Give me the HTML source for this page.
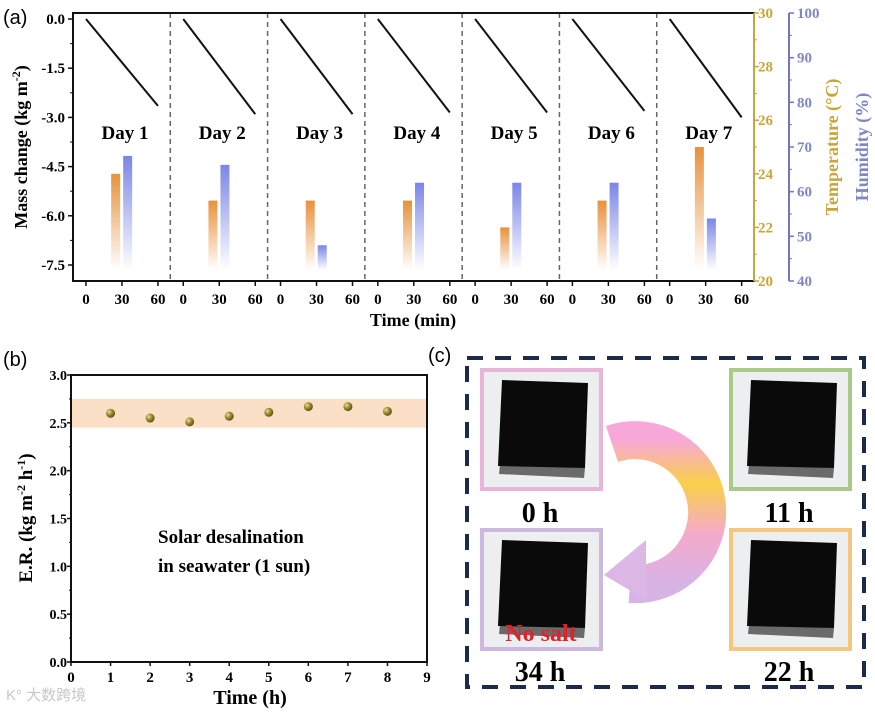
<!DOCTYPE html>
<html><head><meta charset="utf-8">
<style>
html,body{margin:0;padding:0;background:#fff;}
svg{display:block;font-family:"Liberation Serif",serif;}
</style></head>
<body>
<svg id="root" width="875" height="713" viewBox="0 0 875 713" xmlns="http://www.w3.org/2000/svg">
<defs>
<linearGradient id="gOr" x1="0" y1="0" x2="0" y2="1"><stop offset="0" stop-color="#e8913a"/><stop offset="1" stop-color="#e8913a" stop-opacity="0"/></linearGradient>
<linearGradient id="gBl" x1="0" y1="0" x2="0" y2="1"><stop offset="0" stop-color="#7a86e6"/><stop offset="1" stop-color="#7a86e6" stop-opacity="0"/></linearGradient>
<radialGradient id="gBall" cx="0.35" cy="0.35" r="0.7"><stop offset="0" stop-color="#e8df9a"/><stop offset="0.5" stop-color="#9a8a2e"/><stop offset="1" stop-color="#5a4e14"/></radialGradient>
<linearGradient id="gArrow" x1="0" y1="0" x2="0" y2="1"><stop offset="0" stop-color="#f7a8d8"/><stop offset="0.3" stop-color="#f9cf4a"/><stop offset="0.65" stop-color="#f5aacb"/><stop offset="1" stop-color="#d7b3e6"/></linearGradient>
</defs>
<g id="pa"></g>
<g id="pb"></g>
<g id="pc"></g>
</svg>
<script>
// ---------- Panel (a) data ----------
const days = ["Day 1","Day 2","Day 3","Day 4","Day 5","Day 6","Day 7"];
const massEnd = [-2.65,-2.9,-2.9,-2.85,-2.85,-2.8,-3.0];
const temps = [24.0,23.0,23.0,23.0,22.0,23.0,25.0];
const humid = [68,66,48,62,62,62,54];
const massTicks = [0.0,-1.5,-3.0,-4.5,-6.0,-7.5];
const tempTicks = [20,22,24,26,28,30];
const humTicks = [40,50,60,70,80,90,100];
const minTicks = [0,30,60];
// ---------- Panel (b) data ----------
const hours = [1,2,3,4,5,6,7,8];
const erVals = [2.60,2.55,2.51,2.57,2.61,2.67,2.67,2.62];
const erTicks = [0.0,0.5,1.0,1.5,2.0,2.5,3.0];
const hTicks = [0,1,2,3,4,5,6,7,8,9];
const band = [2.45,2.75];

const NS="http://www.w3.org/2000/svg";
function mk(parent,tag,attrs,txt){const e=document.createElementNS(NS,tag);for(const k in attrs)e.setAttribute(k,attrs[k]);if(txt!==undefined)e.textContent=txt;parent.appendChild(e);return e;}

// ===== Panel a =====
const pa=document.getElementById('pa');
const L=73,R=754,T=13,B=281,dayW=(R-L)/7;
const yM=v=>19+(0-v)*(246/7.5);
const yT=v=>B-(v-20)*(B-T)/10;
const yH=v=>B-(v-40)*(B-T)/60;
const xMin=(d,m)=>L+d*dayW+(m+10.8)*1.2;
let t=mk(pa,'text',{x:3,y:24,'font-family':'Liberation Sans, sans-serif','font-size':20},'(a)');

days.forEach((d,i)=>{
  if(i>0){const dl=mk(pa,'line',{x1:L+i*dayW,x2:L+i*dayW,y1:T,y2:B,stroke:'#666','stroke-width':1.5,'stroke-dasharray':'5,4'});
    }
  const ln=mk(pa,'line',{x1:xMin(i,0),y1:yM(0),x2:xMin(i,60),y2:yM(massEnd[i]),stroke:'#111','stroke-width':2});
  
  const lb=mk(pa,'text',{x:L+i*dayW+52,y:139,'text-anchor':'middle','font-weight':'bold','font-size':19},d);
  
  const to=yT(temps[i]);
  const b1=mk(pa,'rect',{x:xMin(i,21),y:to,width:9,height:270-to,fill:'url(#gOr)'});
  
  const ho=yH(humid[i]);
  const b2=mk(pa,'rect',{x:xMin(i,31),y:ho,width:9,height:270-ho,fill:'url(#gBl)'});
  
  minTicks.forEach(m=>{
    mk(pa,'line',{x1:xMin(i,m),x2:xMin(i,m),y1:B,y2:B+5,stroke:'#111','stroke-width':1.5});
    const tl=mk(pa,'text',{x:xMin(i,m),y:304,'text-anchor':'middle','font-weight':'bold','font-size':15},m);
    
  });
});
const fr=mk(pa,'rect',{x:L,y:T,width:R-L,height:B-T,fill:'none',stroke:'#111','stroke-width':2});

mk(pa,'line',{x1:R,x2:R,y1:T,y2:B,stroke:'#c9a53a','stroke-width':2});
massTicks.forEach((v,k)=>{
  mk(pa,'line',{x1:L-5,x2:L,y1:yM(v),y2:yM(v),stroke:'#111','stroke-width':1.5});
  if(k<massTicks.length-1)mk(pa,'line',{x1:L-3,x2:L,y1:yM(v-0.75),y2:yM(v-0.75),stroke:'#111','stroke-width':1});
  const tl=mk(pa,'text',{x:L-8,y:yM(v)+5,'text-anchor':'end','font-weight':'bold','font-size':15},v.toFixed(1));
  
});
t=mk(pa,'text',{transform:'translate(27,147) rotate(-90)','text-anchor':'middle','font-weight':'bold','font-size':18},'');
t.innerHTML='Mass change (kg m<tspan dy="-7" font-size="12">-2</tspan><tspan dy="7">)</tspan>';

t=mk(pa,'text',{x:413,y:326,'text-anchor':'middle','font-weight':'bold','font-size':18},'Time (min)');

tempTicks.forEach((v,k)=>{
  mk(pa,'line',{x1:R,x2:R+5,y1:yT(v),y2:yT(v),stroke:'#c9a53a','stroke-width':1.5});
  if(k<tempTicks.length-1)mk(pa,'line',{x1:R,x2:R+3,y1:yT(v+1),y2:yT(v+1),stroke:'#c9a53a','stroke-width':1});
  const tl=mk(pa,'text',{x:R+4,y:yT(v)+5,'font-size':15,'font-weight':'bold',fill:'#c9a53a'},v);
  
});
const HX=789;
mk(pa,'line',{x1:HX,x2:HX,y1:T,y2:B,stroke:'#7078b8','stroke-width':2});
humTicks.forEach((v,k)=>{
  mk(pa,'line',{x1:HX,x2:HX+5,y1:yH(v),y2:yH(v),stroke:'#7078b8','stroke-width':1.5});
  if(k<humTicks.length-1)mk(pa,'line',{x1:HX,x2:HX+3,y1:yH(v+5),y2:yH(v+5),stroke:'#7078b8','stroke-width':1});
  const tl=mk(pa,'text',{x:HX+8,y:yH(v)+5,'font-size':15,'font-weight':'bold',fill:'#7f86c6'},v);
  
});
t=mk(pa,'text',{transform:'translate(838,147) rotate(-90)','text-anchor':'middle','font-weight':'bold','font-size':18,fill:'#c9a53a'},'Temperature (°C)');

t=mk(pa,'text',{transform:'translate(868,147) rotate(-90)','text-anchor':'middle','font-weight':'bold','font-size':18,fill:'#7f86c6'},'Humidity (%)');


// ===== Panel b =====
const pb=document.getElementById('pb');
const bL=71,bR=427,bT=375,bB=662;
const xb=v=>bL+v*(bR-bL)/9, yb=v=>bB-v*(bB-bT)/3;
t=mk(pb,'text',{x:3,y:366,'font-family':'Liberation Sans, sans-serif','font-size':20},'(b)');

const bd=mk(pb,'rect',{x:bL,y:yb(band[1]),width:bR-bL,height:yb(band[0])-yb(band[1]),fill:'#fbdfc6'});

hours.forEach((h,i)=>{
  const c=mk(pb,'circle',{cx:xb(h),cy:yb(erVals[i]),r:4.5,fill:'url(#gBall)'});
  
});
const fb=mk(pb,'rect',{x:bL,y:bT,width:bR-bL,height:bB-bT,fill:'none',stroke:'#111','stroke-width':2});

erTicks.forEach((v,k)=>{
  mk(pb,'line',{x1:bL-4,x2:bL,y1:yb(v),y2:yb(v),stroke:'#111','stroke-width':1.5});
  if(k<erTicks.length-1)mk(pb,'line',{x1:bL-2,x2:bL,y1:yb(v+0.25),y2:yb(v+0.25),stroke:'#111','stroke-width':1});
  const tl=mk(pb,'text',{x:bL-4,y:yb(v)+5,'text-anchor':'end','font-weight':'bold','font-size':14},v.toFixed(1));
  
});
hTicks.forEach(v=>{
  mk(pb,'line',{x1:xb(v),x2:xb(v),y1:bB,y2:bB+4,stroke:'#111','stroke-width':1.5});
  const tl=mk(pb,'text',{x:xb(v),y:682,'text-anchor':'middle','font-weight':'bold','font-size':15},v);
  
});
t=mk(pb,'text',{transform:'translate(32,518) rotate(-90)','text-anchor':'middle','font-weight':'bold','font-size':19},'');
t.innerHTML='E.R. (kg m<tspan dy="-7" font-size="12">-2</tspan><tspan dy="7"> h</tspan><tspan dy="-7" font-size="12">-1</tspan><tspan dy="7">)</tspan>';

t=mk(pb,'text',{x:250,y:704,'text-anchor':'middle','font-weight':'bold','font-size':20},'Time (h)');

t=mk(pb,'text',{x:158,y:543,'font-weight':'bold','font-size':19},'Solar desalination');

t=mk(pb,'text',{x:158,y:572,'font-weight':'bold','font-size':19},'in seawater (1 sun)');

t=mk(pb,'text',{x:6,y:700,'font-family':'Liberation Sans, Noto Sans CJK SC, sans-serif','font-size':15,fill:'#c8c8c8'},'K° 大数跨境');


// ===== Panel c =====
const pc=document.getElementById('pc');
t=mk(pc,'text',{x:428,y:362,'font-family':'Liberation Sans, sans-serif','font-size':20},'(c)');

const db=mk(pc,'rect',{x:467,y:358,width:397,height:329,fill:'none',stroke:'#1c2b4a','stroke-width':4,'stroke-dasharray':'16,12'});

const samples=[["0 h",480,368,'#e8b4d8',522],["11 h",729,368,'#a8cc88',522],["34 h",480,528,'#cdb9df',681],["22 h",729,528,'#f5c77e',681]];
samples.forEach(s=>{
  const g=mk(pc,'g',{});
  
  mk(g,'rect',{x:s[1]+2,y:s[2]+2,width:119,height:119,fill:'#eceef0',stroke:s[3],'stroke-width':4});
  mk(g,'polygon',{points:`${s[1]+20},${s[2]+96} ${s[1]+105},${s[2]+100} ${s[1]+104},${s[2]+110} ${s[1]+19},${s[2]+106}`,fill:'#6a6a6a'});
  mk(g,'polygon',{points:`${s[1]+22},${s[2]+12} ${s[1]+108},${s[2]+15} ${s[1]+105},${s[2]+100} ${s[1]+18},${s[2]+98}`,fill:'#0a0a0a'});
  const lb=mk(pc,'text',{x:s[1]+60,y:s[4],'text-anchor':'middle','font-weight':'bold','font-size':28},s[0]);
  
});
t=mk(pc,'text',{x:541,y:641,'text-anchor':'middle','font-weight':'bold','font-size':24,fill:'#e0202a'},'No salt');

const ar=mk(pc,'g',{});

mk(ar,'path',{d:'M612,444 A72,72 0 1 1 630,584',fill:'none',stroke:'url(#gArrow)','stroke-width':38});
mk(ar,'polygon',{points:'604,575 646,540 646,600',fill:'#dcb6e4'});
</script>
</body></html>
